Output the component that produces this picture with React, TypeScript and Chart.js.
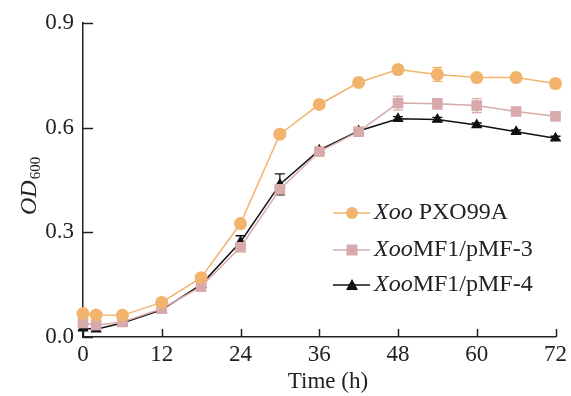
import React, { useEffect, useRef } from "react";
import { Chart, registerables } from "chart.js";
Chart.register(...registerables);

const times = [0, 2, 6, 12, 18, 24, 30, 36, 42, 48, 54, 60, 66, 72];
const pxo99a = [0.067, 0.063, 0.062, 0.099, 0.17, 0.325, 0.581, 0.666, 0.729, 0.766, 0.752, 0.743, 0.743, 0.726];
const pxo99aErr = [0.004, 0.004, 0.004, 0.004, 0.005, 0.005, 0.005, 0.005, 0.005, 0.012, 0.02, 0.01, 0.006, 0.012];
const mf3 = [0.04, 0.034, 0.043, 0.081, 0.144, 0.257, 0.423, 0.531, 0.588, 0.67, 0.668, 0.663, 0.646, 0.632];
const mf3Err = [0.008, 0.008, 0.005, 0.005, 0.005, 0.008, 0.01, 0.005, 0.005, 0.02, 0.015, 0.02, 0.006, 0.008];
const mf4 = [0.025, 0.022, 0.04, 0.078, 0.15, 0.272, 0.437, 0.535, 0.59, 0.625, 0.623, 0.607, 0.588, 0.569];
const mf4Err = [0.005, 0.005, 0.004, 0.004, 0.004, 0.018, 0.03, 0.005, 0.004, 0.006, 0.006, 0.006, 0.005, 0.006];
const xTicks = [0, 12, 24, 36, 48, 60, 72];
const yTicks = [0, 0.3, 0.6, 0.9];
const seriesNames = ["PXO99A", "MF1/pMF-3", "MF1/pMF-4"];
const seriesPrefix = ["Xoo ", "Xoo", "Xoo"];

const ORANGE = "#F2B36C";
const PINK = "#D8AAAB";
const BLACK = "#111111";
const FONT = "'Liberation Serif', 'DejaVu Serif', serif";

export default function App() {
  const ref = useRef<HTMLCanvasElement | null>(null);
  useEffect(() => {
    document.body.style.margin = "0";
    const canvas = ref.current!;
    const colors = [ORANGE, PINK, BLACK];
    const errs = [pxo99aErr, mf3Err, mf4Err];

    const customPlugin = {
      id: "custom",
      beforeDatasetsDraw(chart: any) {
        const ctx = chart.ctx;
        const xs = chart.scales.x;
        const ys = chart.scales.y;
        ctx.save();
        [2, 1, 0].forEach((di) => {
          const data = chart.data.datasets[di].data as { x: number; y: number }[];
          ctx.strokeStyle = colors[di];
          ctx.lineWidth = 1.3;
          data.forEach((p, i) => {
            const e = errs[di][i];
            const px = xs.getPixelForValue(p.x);
            const y1 = ys.getPixelForValue(p.y + e);
            const y2 = ys.getPixelForValue(p.y - e);
            ctx.beginPath();
            ctx.moveTo(px, y1);
            ctx.lineTo(px, y2);
            ctx.moveTo(px - 5, y1);
            ctx.lineTo(px + 5, y1);
            ctx.moveTo(px - 5, y2);
            ctx.lineTo(px + 5, y2);
            ctx.stroke();
          });
        });
        ctx.restore();
      },
      afterDraw(chart: any) {
        const ctx = chart.ctx;
        const xs = chart.scales.x;
        const ys = chart.scales.y;
        const area = chart.chartArea;
        ctx.save();
        ctx.strokeStyle = "#222";
        ctx.lineWidth = 1.5;
        // inward ticks
        xTicks.forEach((t) => {
          const px = Math.round(xs.getPixelForValue(t)) + 0.5;
          ctx.beginPath();
          ctx.moveTo(px, area.bottom);
          ctx.lineTo(px, area.bottom - 8);
          ctx.stroke();
        });
        yTicks.forEach((t) => {
          const py = Math.round(ys.getPixelForValue(t)) + 0.5;
          ctx.beginPath();
          ctx.moveTo(area.left, py);
          ctx.lineTo(area.left + 10, py);
          ctx.stroke();
        });
        // x title
        ctx.fillStyle = "#222";
        ctx.font = `23px ${FONT}`;
        ctx.textAlign = "center";
        ctx.textBaseline = "middle";
        ctx.fillText("Time (h)", 328, 382);
        // y title
        ctx.save();
        ctx.translate(29, 215);
        ctx.rotate(-Math.PI / 2);
        ctx.textAlign = "left";
        ctx.textBaseline = "alphabetic";
        ctx.font = `italic 24px ${FONT}`;
        ctx.fillText("OD", 0, 7);
        const w = ctx.measureText("OD").width;
        ctx.font = `15px ${FONT}`;
        ctx.fillText("600", w + 1, 11);
        ctx.restore();
        // legend
        const rows = [213, 250, 285];
        rows.forEach((ry, i) => {
          ctx.strokeStyle = colors[i];
          ctx.fillStyle = colors[i];
          ctx.lineWidth = 1.5;
          ctx.beginPath();
          ctx.moveTo(333, ry);
          ctx.lineTo(370, ry);
          ctx.stroke();
          const cx = 352;
          ctx.beginPath();
          if (i === 0) {
            ctx.arc(cx, ry, 6, 0, Math.PI * 2);
            ctx.fill();
          } else if (i === 1) {
            ctx.fillRect(cx - 5.5, ry - 5.5, 11, 11);
          } else {
            ctx.moveTo(cx, ry - 6);
            ctx.lineTo(cx + 6, ry + 5);
            ctx.lineTo(cx - 6, ry + 5);
            ctx.closePath();
            ctx.fill();
          }
          ctx.fillStyle = "#222";
          ctx.textAlign = "left";
          ctx.textBaseline = "middle";
          ctx.font = `italic 24px ${FONT}`;
          ctx.fillText(seriesPrefix[i], 374, ry);
          const pw = ctx.measureText(seriesPrefix[i]).width;
          ctx.font = `24px ${FONT}`;
          ctx.fillText(seriesNames[i], 374 + pw, ry);
        });
        ctx.restore();
      },
    };

    const mk = (vals: number[]) => times.map((t, i) => ({ x: t, y: vals[i] }));
    const chart = new Chart(canvas, {
      type: "line",
      data: {
        datasets: [
          {
            label: seriesNames[0],
            data: mk(pxo99a),
            borderColor: ORANGE,
            backgroundColor: ORANGE,
            borderWidth: 1.5,
            pointStyle: "circle",
            pointRadius: 6.5,
            pointBorderWidth: 0,
            tension: 0,
            clip: false as any,
          },
          {
            label: seriesNames[1],
            data: mk(mf3),
            borderColor: PINK,
            backgroundColor: PINK,
            borderWidth: 1.5,
            pointStyle: "rect",
            pointRadius: 7.5,
            pointBorderWidth: 0,
            tension: 0,
            clip: false as any,
          },
          {
            label: seriesNames[2],
            data: mk(mf4),
            borderColor: BLACK,
            backgroundColor: BLACK,
            borderWidth: 1.5,
            pointStyle: "triangle",
            pointRadius: 6.5,
            pointBorderWidth: 0,
            tension: 0,
            clip: false as any,
          },
        ],
      },
      options: {
        animation: false,
        responsive: false,
        maintainAspectRatio: false,
        layout: { padding: { top: 18, right: 11, left: 0, bottom: 0 }, autoPadding: false } as any,
        plugins: { legend: { display: false }, tooltip: { enabled: false } },
        scales: {
          x: {
            type: "linear",
            min: 0,
            max: 72,
            afterBuildTicks: (s: any) => {
              s.ticks = xTicks.map((v) => ({ value: v }));
            },
            afterFit: (s: any) => {
              s.height = 59;
            },
            grid: { display: false, drawTicks: false },
            border: { display: true, color: "#222", width: 1.5 },
            ticks: {
              color: "#222",
              font: { family: FONT, size: 23 },
              padding: 4,
              maxRotation: 0,
              autoSkip: false,
            },
          },
          y: {
            type: "linear",
            min: 0,
            max: 0.9,
            afterBuildTicks: (s: any) => {
              s.ticks = yTicks.map((v) => ({ value: v }));
            },
            afterFit: (s: any) => {
              s.width = 83;
            },
            grid: { display: false, drawTicks: false },
            border: { display: true, color: "#222", width: 1.5 },
            ticks: {
              color: "#222",
              font: { family: FONT, size: 23 },
              padding: 9,
              callback: (v: any) => Number(v).toFixed(1),
            },
          },
        },
      },
      plugins: [customPlugin],
    });
    return () => chart.destroy();
  }, []);
  return (
    <div style={{ width: 571, height: 396, position: "relative" }}>
      <canvas ref={ref} width={571} height={396} style={{ display: "block" }} />
    </div>
  );
}
